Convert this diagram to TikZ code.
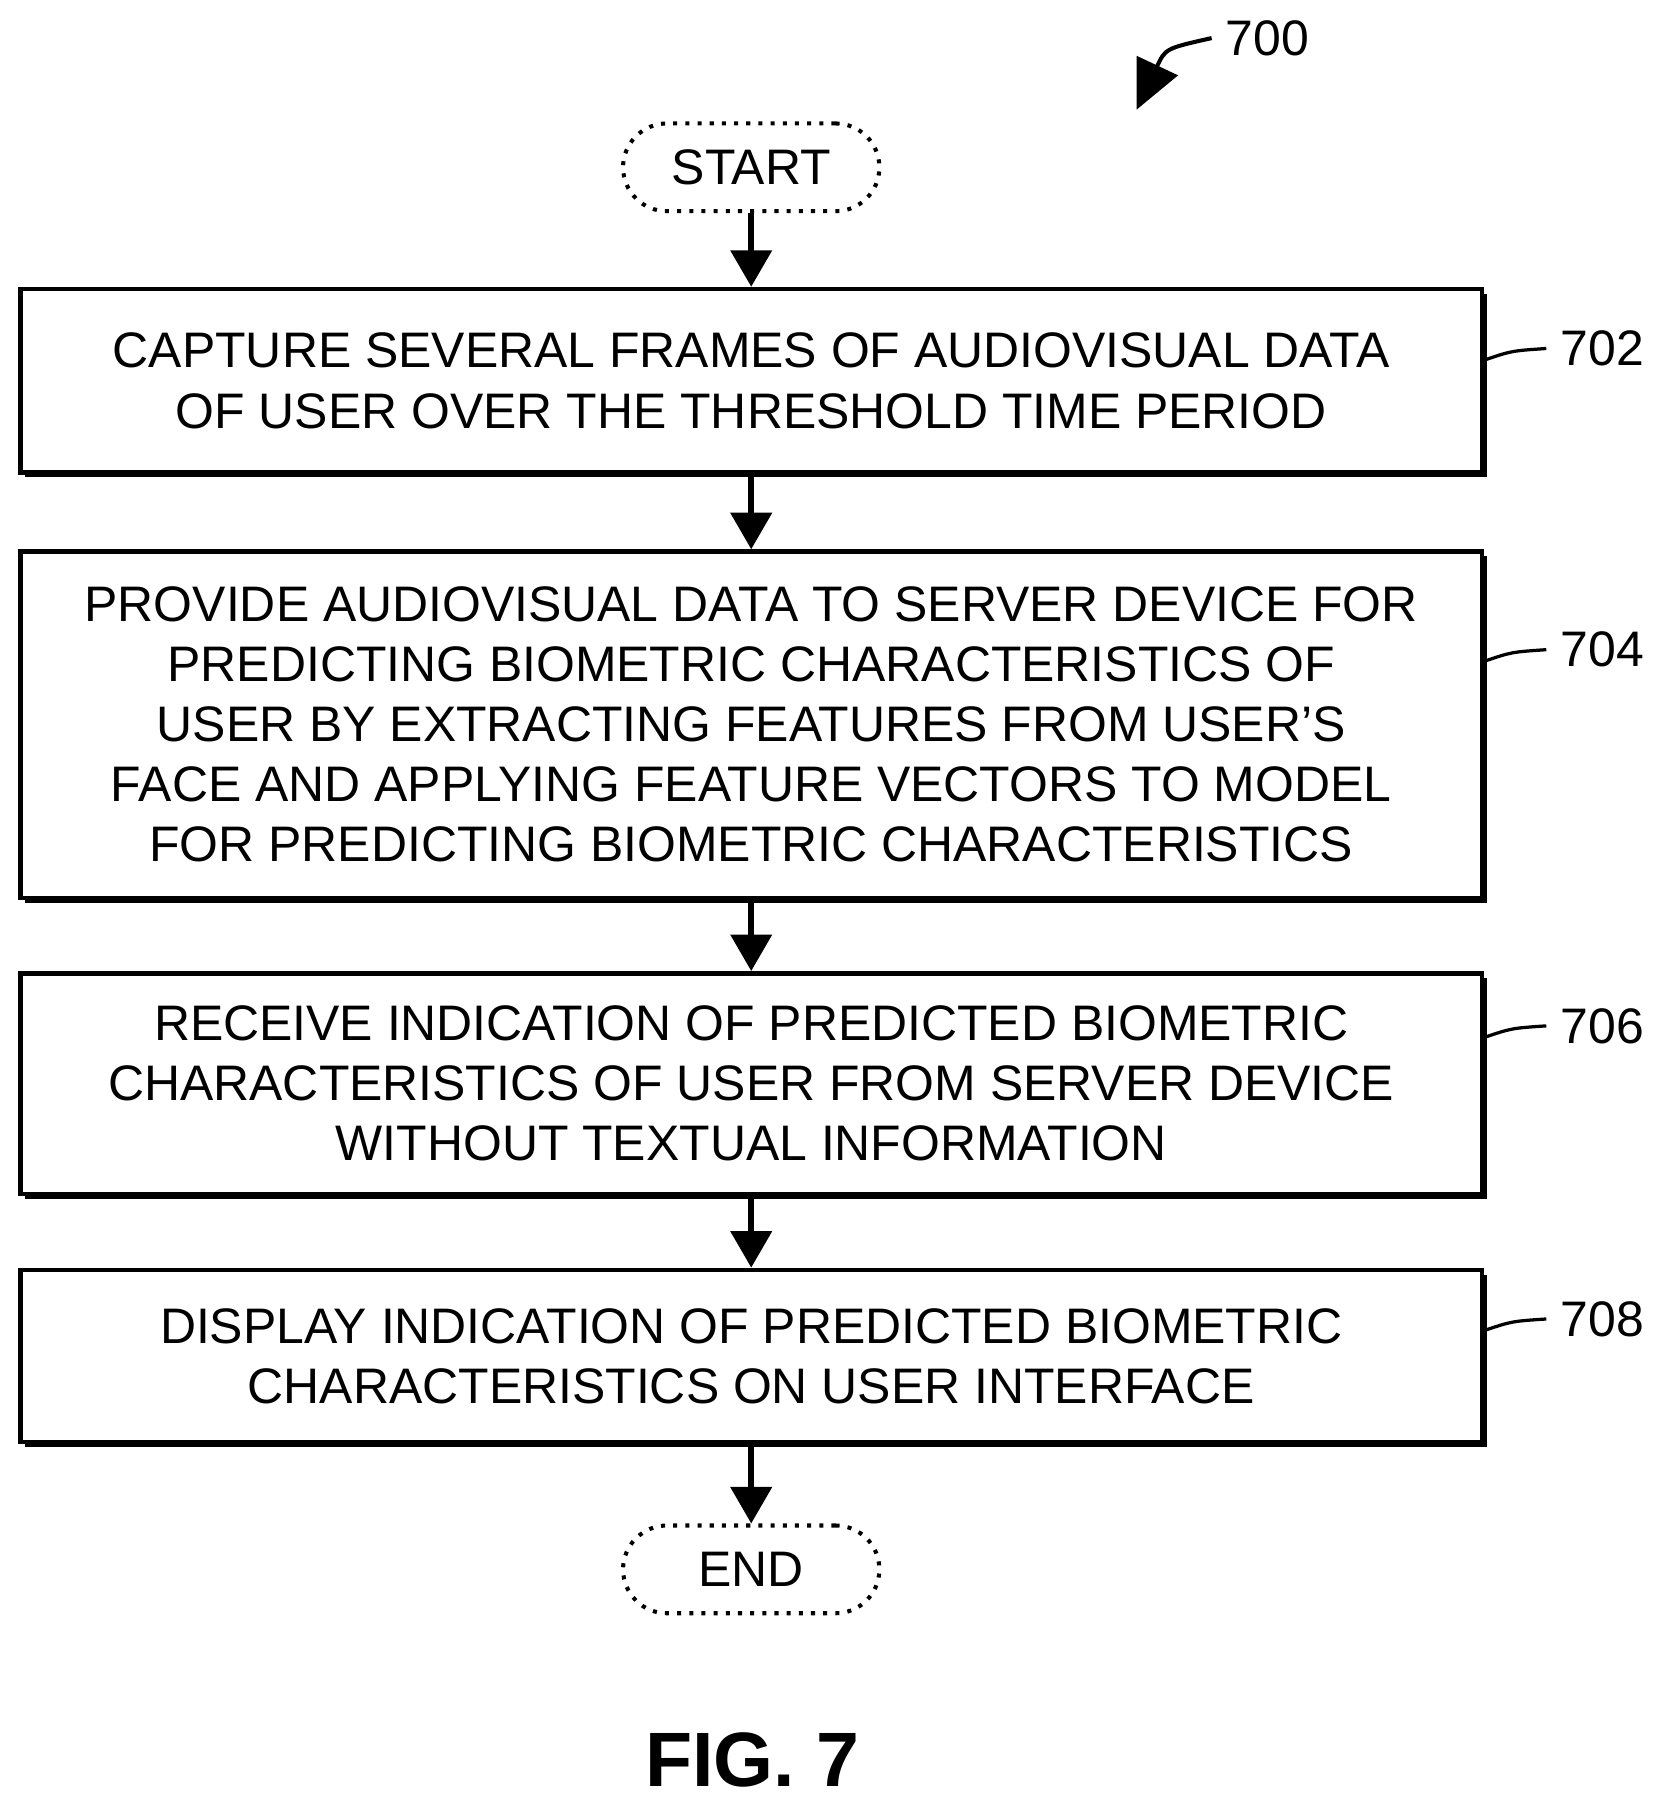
\documentclass[tikz,border=0pt]{standalone}
\usepackage{fontspec}
\setmainfont{Liberation Sans}
\usetikzlibrary{shadows,arrows.meta}
\begin{document}
\begin{tikzpicture}[x=0.01cm,y=-0.01cm,
  box/.style={draw,line width=1.1pt,fill=white,minimum width=12.66cm,align=center,font=\fontsize{12.3}{14.8}\selectfont,
    drop shadow={shadow xshift=1.2pt,shadow yshift=-1.2pt,fill=black,opacity=1}},
  term/.style={draw,line width=1pt,dotted,rounded corners=0.38cm,minimum width=2.22cm,minimum height=0.76cm,font=\fontsize{12.3}{14.8}\selectfont},
  arr/.style={line width=1.4pt,-{Triangle[length=9pt,width=10pt]}},
  lbl/.style={font=\fontsize{12.3}{14}\selectfont}]
\useasboundingbox (0,0) rectangle (1440,1572);
\node[term] (s) at (651,145) {START};
\node[box,minimum height=1.59cm] (b1) at (651,330) {CAPTURE SEVERAL FRAMES OF AUDIOVISUAL DATA\\OF USER OVER THE THRESHOLD TIME PERIOD};
\node[box,minimum height=3.0cm] (b2) at (651,628) {PROVIDE AUDIOVISUAL DATA TO SERVER DEVICE FOR\\PREDICTING BIOMETRIC CHARACTERISTICS OF\\USER BY EXTRACTING FEATURES FROM USER’S\\FACE AND APPLYING FEATURE VECTORS TO MODEL\\FOR PREDICTING BIOMETRIC CHARACTERISTICS};
\node[box,minimum height=1.91cm] (b3) at (651,939) {RECEIVE INDICATION OF PREDICTED BIOMETRIC\\CHARACTERISTICS OF USER FROM SERVER DEVICE\\WITHOUT TEXTUAL INFORMATION};
\node[box,minimum height=1.49cm] (b4) at (651,1175) {DISPLAY INDICATION OF PREDICTED BIOMETRIC\\CHARACTERISTICS ON USER INTERFACE};
\node[term] (e) at (651,1360) {END};
\draw[arr] (s) -- (b1);
\draw[arr] (b1) -- (b2);
\draw[arr] (b2) -- (b3);
\draw[arr] (b3) -- (b4);
\draw[arr] (b4) -- (e);
\foreach \n/\t/\y in {b1/702/302,b2/704/563,b3/706/889,b4/708/1143}{
  \node[lbl,anchor=west] (l\t) at (1340,\y) {\t};
  \draw[line width=0.8pt] (\n.east |- 0,\y+10) .. controls (1310,\y+2) .. (l\t.west);
}
\node[lbl,anchor=west] (l700) at (1050,33) {700};
\coordinate (a700) at (985,95);
\draw[line width=1pt,-{Triangle[length=12pt,width=11pt]}] (l700.west) .. controls (1010,42) .. (a700);
\node[font=\bfseries\fontsize{19}{22}\selectfont] (fig) at (652,1525) {FIG. 7};
\end{tikzpicture}
\end{document}
